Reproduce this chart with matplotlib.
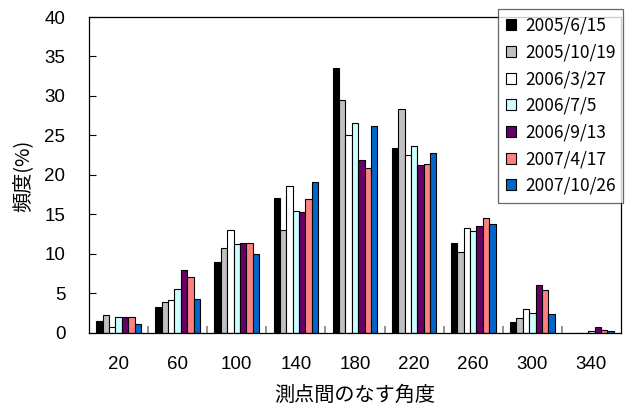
import numpy as np
import matplotlib
matplotlib.use('Agg')
from matplotlib import pyplot as plt

plt.rcParams['font.family'] = ['Noto Sans CJK JP', 'DejaVu Sans']

####DATA####
angles = ['20', '60', '100', '140', '180', '220', '260', '300', '340']
dates = ['2005/6/15', '2005/10/19', '2006/3/27', '2006/7/5',
         '2006/9/13', '2007/4/17', '2007/10/26']
d050615 = [1.4, 3.2, 8.9, 17.0, 33.5, 23.4, 11.3, 1.3, 0.0]
d051019 = [2.2, 3.85, 10.7, 13.0, 29.5, 28.3, 10.2, 1.9, 0.0]
d060327 = [0.7, 4.1, 13.0, 18.6, 25.0, 22.5, 13.3, 2.95, 0.0]
d060705 = [2.0, 5.5, 11.2, 15.4, 26.5, 23.6, 12.9, 2.5, 0.25]
d060913 = [2.0, 7.9, 11.4, 15.3, 21.9, 21.2, 13.5, 6.0, 0.76]
d070417 = [2.0, 7.0, 11.4, 16.9, 20.9, 21.3, 14.5, 5.45, 0.38]
d071026 = [1.1, 4.3, 10.0, 19.1, 26.2, 22.8, 13.8, 2.3, 0.15]
series = [d050615, d051019, d060327, d060705, d060913, d070417, d071026]
colors = ['#000000', '#C0C0C0', '#FFFFFF', '#CCFFFF', '#660066', '#FF8080', '#0066CC']
############

fig = plt.figure(figsize=(6.29, 4.07), dpi=100)
ax = fig.add_axes([89/629, 1-332.5/407, 532/629, 315.5/407])

x = np.arange(len(angles))
bw = 0.108
for i, (vals, c) in enumerate(zip(series, colors)):
    ax.bar(x + (i-3)*bw, vals, width=bw, color=c, edgecolor='black',
           linewidth=0.8, label=dates[i], zorder=2)

ax.set_xlim(-0.5, len(angles)-0.5)
ax.set_ylim(0, 40)
ax.set_yticks(np.arange(0, 41, 5))
ax.set_xticks(x)
ax.set_xticklabels(angles)
# gray marks between angle classes
ax.set_xticks(np.arange(0.5, len(angles)-1, 1), minor=True)
ax.tick_params(axis='x', which='major', length=0, pad=17, labelsize=13.5)
ax.tick_params(axis='x', which='minor', direction='in', length=5, color='#808080', width=1.2)
ax.tick_params(axis='y', direction='in', length=5, width=0.8, pad=17, labelsize=13.5)
for lab in ax.get_xticklabels() + ax.get_yticklabels():
    lab.set_fontfamily('Liberation Sans')
for s in ax.spines.values():
    s.set_linewidth(0.9)

fig.text(354.5/629, 1-395/407, '測点間のなす角度', ha='center', va='center', fontsize=14.5)
fig.text(23/629, 1-176/407, '頻度(%)', ha='center', va='center', rotation=90, fontsize=14.5)

leg = fig.legend(loc='upper left', bbox_to_anchor=(498/629, 1-9/407),
                 fontsize=12.5, frameon=True, fancybox=False, edgecolor='#404040',
                 handlelength=0.6, handleheight=0.6, handletextpad=0.5,
                 labelspacing=0.5, borderpad=0.45, borderaxespad=0)
leg.get_frame().set_linewidth(0.9)

fig.savefig('out.png', dpi=100)
